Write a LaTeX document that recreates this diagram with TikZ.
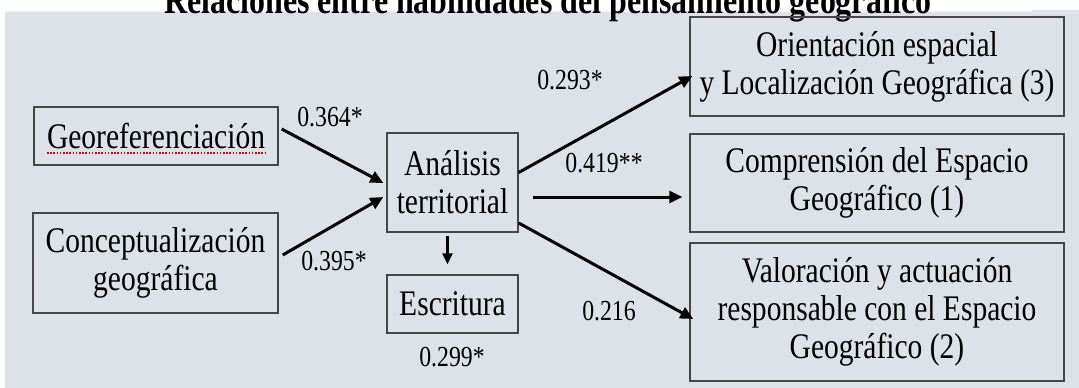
\documentclass[tikz,border=0pt]{standalone}
\usepackage{fontspec}
\setmainfont{Liberation Serif}[FakeStretch=0.82]
\usetikzlibrary{arrows.meta}
\definecolor{panel}{RGB}{221,225,232}
\definecolor{edge}{RGB}{70,70,70}
\begin{document}
\begin{tikzpicture}[x=1pt,y=-1pt,
  box/.style={draw=edge, line width=1.4pt, align=center, inner sep=0pt,
              font=\fontsize{36}{38}\selectfont},
  lbl/.style={font=\fontsize{29}{30}\selectfont, inner sep=0pt},
  arr/.style={line width=3pt, -{Triangle[length=13pt,width=12pt]}},
  sarr/.style={line width=2.5pt, -{Triangle[length=11pt,width=10pt]}}]
\useasboundingbox (0,0) rectangle (1079,388);
\fill[white] (0,0) rectangle (1079,388);
\fill[panel] (5,10) rectangle (1079,388);
\draw[white!70!panel, line width=1.5pt] (5,11) -- (1032,11);
\node[font=\bfseries\fontsize{39}{40}\selectfont, anchor=base, inner sep=0pt] (title) at (548,13)
  {Relaciones entre habilidades del pensamiento geográfico};
% boxes
\node[box, minimum width=244pt, minimum height=58pt] (geo) at (156,136) {Georeferenciación};
\node[box, minimum width=245pt, minimum height=100pt] (con) at (155.5,263) {Conceptualización\\geográfica};
\node[box, minimum width=131pt, minimum height=99pt] (ana) at (452.5,182.5) {Análisis\\territorial};
\node[box, minimum width=131pt, minimum height=58pt] (esc) at (452.5,304) {Escritura};
\node[box, minimum width=374pt, minimum height=99pt] (ori) at (877,66.5) {Orientación espacial\\y Localización Geográfica (3)};
\node[box, minimum width=374pt, minimum height=98pt] (com) at (877,183) {Comprensión del Espacio\\Geográfico (1)};
\node[box, minimum width=374pt, minimum height=138pt] (val) at (877,312) {Valoración y actuación\\responsable con el Espacio\\Geográfico (2)};
% spell-check underline
\draw[red!85!black, line width=1.6pt, dash pattern=on 1.6pt off 1.6pt] (47,153) -- (265,153);
% connectors
\draw[arr] ([shift={(3,-7)}]geo.east) -- ([shift={(-3,0.5)}]ana.west);
\draw[arr] ([shift={(4,-8)}]con.east) -- ([shift={(-3,14.5)}]ana.west);
\draw[sarr] ([shift={(-5,3)}]ana.south) -- ([shift={(-5,-10)}]esc.north);
\draw[arr] ([shift={(0,-10)}]ana.east) -- ([shift={(3,9.5)}]ori.west);
\draw[arr] ([shift={(14,14.5)}]ana.east) -- ([shift={(-7,14)}]com.west);
\draw[arr] ([shift={(0,40.5)}]ana.east) -- ([shift={(4,7)}]val.west);
% labels
\node[lbl] (l1) at (330,117) {0.364*};
\node[lbl] (l2) at (334,261) {0.395*};
\node[lbl] (l3) at (452,357) {0.299*};
\node[lbl] (l4) at (570,80) {0.293*};
\node[lbl] (l5) at (604,163) {0.419**};
\node[lbl] (l6) at (609,311) {0.216};
\end{tikzpicture}
\end{document}
